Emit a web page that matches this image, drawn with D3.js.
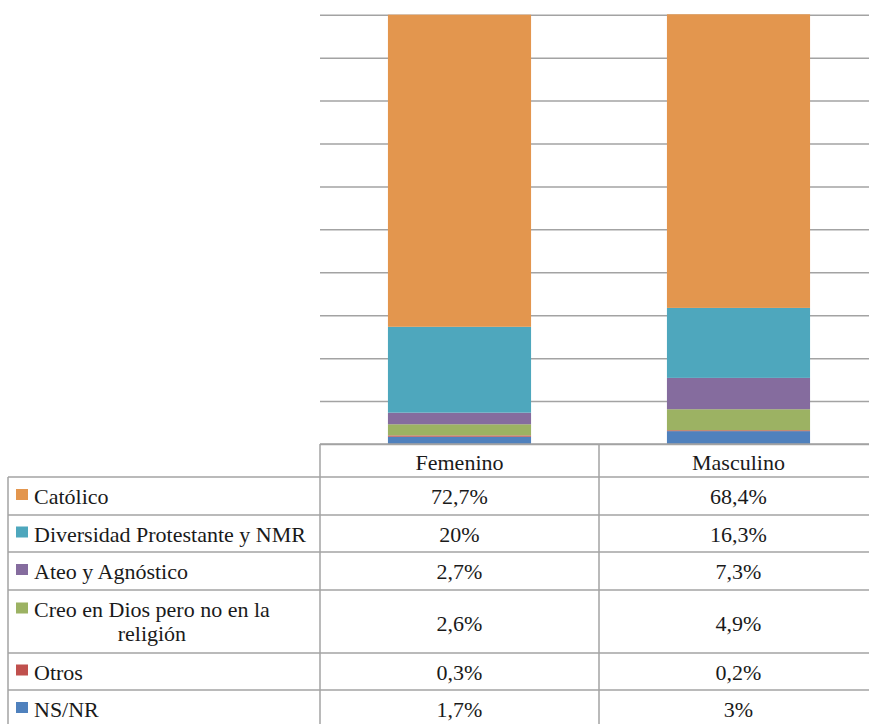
<!DOCTYPE html>
<html>
<head>
<meta charset="utf-8">
<script src="https://cdn.jsdelivr.net/npm/d3@7"></script>
<style>
  html, body { margin: 0; padding: 0; background: #fff; }
  svg { display: block; }
  text { font-family: "Liberation Serif", "DejaVu Serif", serif; fill: #1a1a1a; }
</style>
</head>
<body>
<svg id="chart" width="869" height="724"></svg>
<script>
// ---- data ----
const groups = ["Femenino", "Masculino"];
const seriesNames = ["Católico", "Diversidad Protestante y NMR", "Ateo y Agnóstico", "Creo en Dios pero no en la religión", "Otros", "NS/NR"];
const femenino = [72.7, 20, 2.7, 2.6, 0.3, 1.7];
const masculino = [68.4, 16.3, 7.3, 4.9, 0.2, 3];
const femeninoLabels = ["72,7%", "20%", "2,7%", "2,6%", "0,3%", "1,7%"];
const masculinoLabels = ["68,4%", "16,3%", "7,3%", "4,9%", "0,2%", "3%"];
const colors = ["#E3964E", "#4EA7BD", "#856C9E", "#9CB263", "#C0504D", "#4F81BD"];
const yTicks = [0, 10, 20, 30, 40, 50, 60, 70, 80, 90, 100];

// ---- layout ----
const svg = d3.select("#chart");
const plotLeft = 320, plotRight = 878, plotTop = 14.7, plotBottom = 444;
const tableLeft = 8;
const rowEdges = [444, 477, 515, 552, 590, 653, 690, 728];
const gridColor = "#a3a3a3";
const fontSize = 22;

const x = d3.scaleBand().domain(groups).range([plotLeft, plotRight]).paddingInner(0.487).paddingOuter(0.2435);
const y = d3.scaleLinear().domain([0, 100]).range([plotBottom, plotTop]);
const color = d3.scaleOrdinal().domain(seriesNames).range(colors);

// gridlines
const gridAxis = d3.axisLeft(y).tickValues(yTicks).tickSize(-(869 - plotLeft)).tickFormat("");
const g = svg.append("g").attr("transform", `translate(${plotLeft},0)`).call(gridAxis);
g.select(".domain").remove();
g.selectAll(".tick line").attr("stroke", gridColor).attr("stroke-width", 1.5);

// stacked bars (NS/NR at the bottom, Católico on top)
const table = groups.map((grp, i) => {
  const row = { group: grp };
  const vals = i === 0 ? femenino : masculino;
  seriesNames.forEach((s, j) => row[s] = vals[j]);
  return row;
});
const stack = d3.stack().keys(seriesNames.slice().reverse())(table);
svg.append("g").selectAll("g").data(stack).join("g")
  .attr("fill", d => color(d.key))
  .selectAll("rect").data(d => d).join("rect")
  .attr("x", d => x(d.data.group))
  .attr("width", x.bandwidth())
  .attr("y", d => y(d[1]))
  .attr("height", d => y(d[0]) - y(d[1]));

// ---- data table ----
const colCenters = groups.map(grp => x(grp) + x.bandwidth() / 2);
const colDivider = plotLeft + x.step();
const lines = svg.append("g").attr("stroke", gridColor).attr("stroke-width", 1.5);
rowEdges.forEach((ry, i) => {
  lines.append("line").attr("x1", i === 0 ? plotLeft : tableLeft).attr("x2", 869).attr("y1", ry).attr("y2", ry);
});
lines.append("line").attr("x1", tableLeft).attr("x2", tableLeft).attr("y1", rowEdges[1]).attr("y2", 724);
lines.append("line").attr("x1", plotLeft).attr("x2", plotLeft).attr("y1", rowEdges[0]).attr("y2", 724);
lines.append("line").attr("x1", colDivider).attr("x2", colDivider).attr("y1", rowEdges[0]).attr("y2", 724);

const txt = svg.append("g").attr("font-size", fontSize);
groups.forEach((grp, i) => {
  txt.append("text").attr("x", colCenters[i]).attr("y", (rowEdges[0] + rowEdges[1]) / 2 + 9)
    .attr("text-anchor", "middle").text(grp);
});
seriesNames.forEach((s, j) => {
  const top = rowEdges[j + 1], bot = rowEdges[j + 2];
  const cy = (top + bot) / 2;
  svg.append("rect").attr("x", 16).attr("y", (j === 3 ? top + 12.5 : cy - 7)).attr("width", 12).attr("height", 11).attr("fill", colors[j]);
  if (j === 3) {
    const t1 = txt.append("text").attr("x", 34).attr("y", top + 27).text("Creo en Dios pero no en la");
    const w = t1.node().getComputedTextLength();
    txt.append("text").attr("x", 34 + w / 2).attr("y", top + 51).attr("text-anchor", "middle").text("religión");
  } else {
    txt.append("text").attr("x", 34).attr("y", cy + 8).text(s);
  }
  const vy = j === 3 ? cy + 9 : cy + 8;
  txt.append("text").attr("x", colCenters[0]).attr("y", vy).attr("text-anchor", "middle").text(femeninoLabels[j]);
  txt.append("text").attr("x", colCenters[1]).attr("y", vy).attr("text-anchor", "middle").text(masculinoLabels[j]);
});
</script>
</body>
</html>
